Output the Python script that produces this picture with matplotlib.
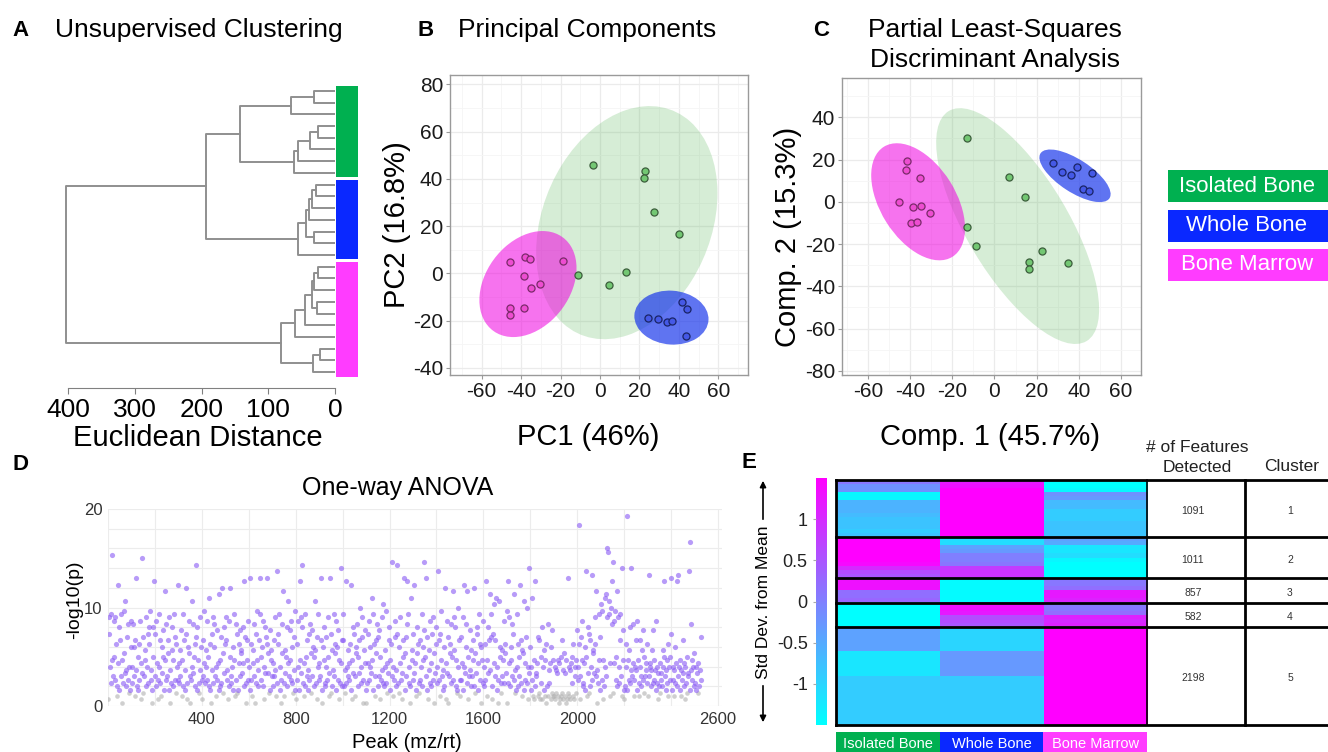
import numpy as np
import matplotlib
matplotlib.use('Agg')
from matplotlib import pyplot as plt, patches as pth
from matplotlib.colors import LinearSegmentedColormap, Normalize
from matplotlib.cm import ScalarMappable
from matplotlib.ticker import MultipleLocator

plt.rcParams['font.family'] = ['Liberation Sans', 'DejaVu Sans']
plt.rcParams['axes.unicode_minus'] = False

W, H = 1328, 752

# ----------------------------------- data
groups = ['Isolated Bone', 'Whole Bone', 'Bone Marrow']
group_colors = ['#00b050', '#0a28ff', '#ff3cff']
leaf_color = {'I': group_colors[0], 'W': group_colors[1], 'M': group_colors[2]}

# dendrogram (merge height, upper child, lower child), leaves = group key
den_tree = (403,
            (193,
             (143,
              (66, (31, 'I', 'I'), 'I'),
              (62, (55, (37, (26, 'I', 'I'), 'I'), 'I'), 'I')),
             (56, (43, (39, (35, (28, 'W', 'W'), 'W'), 'W'), (31, 'W', 'W')), 'W')),
            (81,
             (60, (45, (35, (31, (25, 'M', 'M'), 'M'), (27, 'M', 'M')), 'M'), 'M'),
             (33, (23, 'M', 'M'), 'M')))

# PCA scores
pc1_iso = [-3.7, 22.8, 22.5, 27.2, 40.2, 13.3, 4.4, -11.3]
pc2_iso = [45.7, 43.2, 40.2, 26.1, 16.5, 0.7, -5.0, -0.8]
pc1_whole = [24.2, 29.2, 34.1, 36.5, 41.6, 43.9, 43.6]
pc2_whole = [-18.8, -19.3, -20.4, -20.1, -12.1, -14.9, -26.3]
pc1_marrow = [-45.6, -38.0, -35.3, -18.8, -38.7, -30.3, -34.8, -45.5, -38.4, -45.5]
pc2_marrow = [4.7, 7.0, 6.2, 5.2, -1.2, -4.3, -6.3, -14.7, -14.6, -17.6]
# confidence ellipses: centre x, centre y, width, height, angle
pca_ellipses = [(13.6, 21.5, 107, 82, 53), (36.2, -18.7, 37.6, 22.8, -3),
                (-36.5, -4.5, 54, 39, 36.5)]

# PLS-DA scores
c1_iso = [-13.1, 7.0, 14.4, -12.9, -8.7, 22.7, 16.3, 16.3, 34.7]
c2_iso = [30.1, 11.9, 2.4, -12.0, -21.0, -23.3, -28.5, -31.7, -29.0]
c1_whole = [27.6, 31.9, 36.5, 39.3, 46.1, 42.2, 44.8]
c2_whole = [18.5, 14.3, 12.5, 16.6, 13.5, 6.1, 5.1]
c1_marrow = [-41.4, -42.0, -35.5, -45.5, -38.8, -34.7, -30.8, -39.8, -36.8]
c2_marrow = [19.2, 14.9, 11.4, -0.1, -2.6, -1.8, -5.2, -10.2, -9.6]
pls_ellipses = [(11, -11.5, 127, 48, -59), (38.2, 12.3, 39, 15.5, -33),
                (-36.2, 0, 61.4, 35.8, -58)]

# one-way ANOVA -log10(p), one string per 100 peaks, each char = level/3
ANOVA_LEVELS = '0123456789ABCDEFGHIJKLMNOPQRSTUVWXYZabcdefghijklmnopqrstuvwxyz'
anova_segments = [
    '2RMCS7Ek9QF8RJ63bDO5KS9E17TGWA6BL8PC45QI',
    'C7PI93KBd65FJ8QD2AjL49HER6CM7OJT8B15OFc9',
    'MQ6D28SCK73AIFN5EZ8P9GK5RB17OHE6SL84JCb8',
    '7DH9NE36SKB5aM72IGQ918WCPAFJ6hLO5E47RBI8',
    '29KDT7CH8QF6XJ51MBR7IP9C38NDY56EL7aG4AOJ',
    'KR8B26QFa79CI5SE38PM45JDN9GHAOD6cL71KEQ8',
    'C5dJ83HDP917MET6BKdS8FI6QC2AOLJdAG45NEH9',
    '6DK9RB37fJMS5C18PGZ73AHFO6DW9NE8QI74LBT5',
    '28JCQ5EcARhO7D36SFK95BM8PG49NIF6WH72LCS8',
    'D9dK51IEO67CL8RF3AdM46HBS9GJ5QIN8E27gDK6',
    'KS6B47cCH98DJ5bE2AOM39IGP6FKAUC7RL81HDN5',
    '17MDQ8CIAXE5SJ93KGP6LN9F28RBV76CH7TD4AOK',
    '5EJ9iC38QLB6hM74IDR82AKFd5GL9PcS7C16XEH8',
    'MbAD35OGJ748KCS6EIiNF9dL52HBQ76DM8RG1AOJ',
    'C7fK83MET95BI6aD2AQL19JGP7FZ8RHO6E45UCK8',
    '38LDR5CbAPIZ7F29NBH69EK6aG4AOMD5SJ81IEQ7',
    '6CJ8cE3AOKBYSL62MDV9KX5C18WFI749HEQ7GJAT',
    '17cDR6EI9PMY8B45SCJ6F9bK73HGW58DL7UC2AgI',
    '5C8X3E2c6A9D3L4K2F7O2C5H3E1J6P3B7D2I4N3E',
    '3C2B4A3E1D2F3K4B2G3A1E2d4C3B2D7F3J2C9E4N',
    'C8tJ92LEQ67DI5fF3AOM46KCe8GHARJZ9B17SEL5',
    'VT8E26XCY9RmlWSD3UPc4iQDT8FZ6RC7SK93gEN5',
    '26JCw5EH8O7gB9PD38CKB5QE73KC96HN8F49DBJ7',
    '39eDC6BH7NE8B5Q7C2A64D8A6HCcF95B7EJ3C8FM',
    'd5C8B3I7D6c9eC5E3B8KA6D2C7F4A9fo5BPE8C6G',
    '7C5A4D6B8L',
]
anova_last_peak = 2530
anova_cutoff = 1.6

# heatmap (std dev from mean), rows per cluster, columns = groups
heat_clusters = [
    [[0.1, 1.2, -1.5], [-0.2, 1.3, -1.5], [-0.2, 1.5, -1.4], [-1.4, 1.5, -0.2],
     [-1.4, 1.5, -0.3], [-0.6, 1.5, -0.7], [-0.6, 1.5, -0.7], [-0.6, 1.5, -0.9],
     [-0.7, 1.5, -0.9], [-0.8, 1.5, -0.9], [-0.8, 1.5, -0.8], [-0.8, 1.5, -0.8],
     [-0.9, 1.5, -0.8], [-0.8, 1.5, -0.8]],
    [[1.5, -1.1, -0.4], [1.5, -1.1, -0.5], [1.5, -0.4, -1.2], [1.5, -0.3, -1.2],
     [1.5, 0.0, -1.1], [1.5, 0.0, -1.4], [1.4, 0.1, -1.5], [1.0, 0.8, -1.5],
     [0.6, 0.9, -1.5], [0.5, 0.9, -1.5]],
    [[1.3, -1.45, 0.1], [1.3, -1.45, 0.1], [1.3, -1.45, 0.2], [0.2, -1.45, 1.2],
     [0.2, -1.45, 1.2], [0.3, -1.45, 1.1]],
    [[-1.5, 1.3, 0.1], [-1.5, 1.3, 0.1], [-1.5, 1.2, 0.2], [-1.5, 0.6, 1.1],
     [-1.5, 0.6, 1.0], [-1.5, 0.5, 1.1]],
    [[-0.4, -1.0, 1.5]] * 6 + [[-1.2, -0.3, 1.5]] * 6 + [[-0.9, -0.9, 1.5]] * 12,
]
features_detected = [1091, 1011, 857, 582, 2198]
cluster_ids = [1, 2, 3, 4, 5]

# ----------------------------------- helpers
fig = plt.figure(figsize=(W / 100, H / 100), dpi=100)


def px_axes(l, t, r, b):
    return fig.add_axes([l / W, 1 - b / H, (r - l) / W, (b - t) / H])


def px_text(x, y, s, **kw):
    kw.setdefault('ha', 'center')
    kw.setdefault('va', 'center')
    return fig.text(x / W, 1 - y / H, s, **kw)


def px_rect(l, t, r, b, color):
    fig.patches.append(pth.Rectangle((l / W, 1 - b / H), (r - l) / W, (b - t) / H,
                                     transform=fig.transFigure, color=color, lw=0))


def draw_tree(ax, node, leaves):
    if isinstance(node, str):
        leaves.append(node)
        return len(leaves) - 1, 0
    h, upper, lower = node
    y1, h1 = draw_tree(ax, upper, leaves)
    y2, h2 = draw_tree(ax, lower, leaves)
    ax.plot([h1, h, h, h2], [y1, y1, y2, y2], color='#8f8f8f', lw=1.4)
    return (y1 + y2) / 2, h


def style_score_axes(ax, xlim, ylim, yticks):
    ax.set_xlim(*xlim)
    ax.set_ylim(*ylim)
    ax.set_xticks(range(-60, 61, 20))
    ax.set_yticks(yticks)
    ax.xaxis.set_minor_locator(MultipleLocator(10))
    ax.yaxis.set_minor_locator(MultipleLocator(10))
    ax.grid(which='major', color='#ebebeb', lw=0.9)
    ax.grid(which='minor', color='#f5f5f5', lw=0.6)
    ax.set_axisbelow(True)
    for sp in ax.spines.values():
        sp.set_color('#9a9a9a')
        sp.set_linewidth(1.0)
    ax.tick_params(which='major', labelsize=15, color='#9a9a9a', length=3, pad=2,
                   labelcolor='#1a1a1a')
    ax.tick_params(which='minor', length=0)


def draw_scores(ax, ellipses, xs, ys):
    fills = [(0.45, 0.78, 0.45), (0.27, 0.35, 0.9), (0.93, 0.3, 0.82)]
    edges = ['#3c5e3c', '#1a2466', '#7a2a6a']
    faces = ['#5cb85c', '#1432eb', '#f000e0']
    alphas = [0.25, 0.68, 0.55]
    for k in [0, 2, 1]:
        cx, cy, w, h, ang = ellipses[k]
        ax.add_patch(pth.Ellipse((cx, cy), w, h, angle=ang, facecolor=faces[k],
                                 alpha=alphas[k], edgecolor='none', zorder=1))
    for k in range(3):
        ax.scatter(xs[k], ys[k], s=26, color=fills[k], edgecolors=edges[k],
                   linewidths=0.9, zorder=3)


# ----------------------------------- A: dendrogram
px_text(12, 30, 'A', ha='left', fontsize=16, fontweight='bold')
px_text(55, 30, 'Unsupervised Clustering', ha='left', fontsize=19)

axA = px_axes(65, 85, 335, 388)
leaves = []
draw_tree(axA, den_tree, leaves)
axA.set_xlim(405, 0)
axA.set_ylim(len(leaves) - 0.5 + 0.85, -0.5)
for s in ['top', 'right', 'left']:
    axA.spines[s].set_visible(False)
axA.spines['bottom'].set_bounds(0, 400)
axA.spines['bottom'].set_color('#808080')
axA.set_xticks([400, 300, 200, 100, 0])
axA.set_yticks([])
axA.tick_params(axis='x', labelsize=19, color='#808080', length=4, pad=3)
px_text(198, 438, 'Euclidean Distance', fontsize=21)

axAc = px_axes(336, 85, 358, 388)
axAc.set_xlim(0, 1)
axAc.set_ylim(len(leaves) - 0.5 + 0.85, -0.5)
axAc.axis('off')
start = 0
for i in range(1, len(leaves) + 1):
    if i == len(leaves) or leaves[i] != leaves[start]:
        n = i - start
        axAc.barh(start + (n - 1) / 2, 1, height=n - 0.25, color=leaf_color[leaves[start]])
        start = i

# ----------------------------------- B: PCA
px_text(418, 30, 'B', ha='left', fontsize=16, fontweight='bold')
px_text(458, 30, 'Principal Components', ha='left', fontsize=19)
axB = px_axes(450, 75, 748, 375)
style_score_axes(axB, (-76, 75), (-43, 84), range(-40, 81, 20))
draw_scores(axB, pca_ellipses, [pc1_iso, pc1_whole, pc1_marrow],
            [pc2_iso, pc2_whole, pc2_marrow])
px_text(397, 225, 'PC2 (16.8%)', rotation=90, fontsize=21)
px_text(588, 437, 'PC1 (46%)', fontsize=21)

# ----------------------------------- C: PLS-DA
px_text(813, 30, 'C', ha='left', fontsize=16, fontweight='bold')
px_text(995, 30, 'Partial Least-Squares', fontsize=19)
px_text(995, 60, 'Discriminant Analysis', fontsize=19)
axC = px_axes(842, 78, 1141, 375)
style_score_axes(axC, (-72.3, 69.5), (-82, 58.6), range(-80, 41, 20))
draw_scores(axC, pls_ellipses, [c1_iso, c1_whole, c1_marrow],
            [c2_iso, c2_whole, c2_marrow])
px_text(788, 237, 'Comp. 2 (15.3%)', rotation=90, fontsize=21)
px_text(990, 437, 'Comp. 1 (45.7%)', fontsize=21)

# legend
for i, (name, col) in enumerate(zip(groups, group_colors)):
    top = 170 + i * 39.5
    px_rect(1168, top, 1330, top + 32, col)
    px_text(1247, top + 16, name, color='white', fontsize=16)

# ----------------------------------- D: ANOVA
px_text(12, 465, 'D', ha='left', fontsize=16, fontweight='bold')
px_text(398, 488, 'One-way ANOVA', fontsize=18)
axD = px_axes(108, 509, 722, 706)
peak_x, logp = [], []
for k, seg in enumerate(anova_segments):
    lo = k * 100
    hi = min(lo + 100, anova_last_peak)
    step = (hi - lo) / len(seg)
    for j, ch in enumerate(seg):
        peak_x.append(lo + (j + 0.5) * step)
        logp.append(ANOVA_LEVELS.index(ch) / 3)
peak_x = np.array(peak_x)
logp = np.array(logp)
sig = logp >= anova_cutoff
axD.scatter(peak_x[~sig], logp[~sig], s=11, color='#b0b0b0', alpha=0.6, lw=0)
axD.scatter(peak_x[sig], logp[sig], s=14, color='#8c5ef5', alpha=0.62, lw=0)
axD.set_xlim(0, 2617)
axD.set_ylim(0, 20)
axD.set_xticks([400, 800, 1200, 1600, 2000, 2600])
axD.set_yticks([0, 10, 20])
axD.set_xticks(np.arange(0, 2601, 200), minor=True)
axD.set_yticks(np.arange(0, 21, 2), minor=True)
axD.grid(which='both', color='#ececec', lw=0.8)
axD.set_axisbelow(True)
for sp in axD.spines.values():
    sp.set_visible(False)
axD.tick_params(which='both', length=0, labelsize=12, labelcolor='#333333', pad=4)
px_text(75, 600, '-log10(p)', rotation=90, fontsize=14)
px_text(407, 742, 'Peak (mz/rt)', fontsize=14.5)

# ----------------------------------- E: heatmap
px_text(742, 462, 'E', ha='left', fontsize=16, fontweight='bold')
heat_cmap = LinearSegmentedColormap.from_list('cyan_magenta', ['#00ffff', '#ff00ff'])
heat_norm = Normalize(-1.5, 1.5)
heat = np.vstack([np.array(c, dtype=float) for c in heat_clusters])
edges = np.cumsum([0] + [len(c) for c in heat_clusters])
n_rows = heat.shape[0]

col_w = (1147 - 836) / 3
x_end = (1328 - 836) / col_w
x_div = (1245 - 836) / col_w
axE = px_axes(836, 480, 1328, 725)
axE.imshow(heat, cmap=heat_cmap, norm=heat_norm, aspect='auto',
           extent=(0, 3, n_rows, 0), interpolation='nearest')
axE.set_xlim(0, x_end)
axE.set_ylim(n_rows, 0)
axE.axis('off')
for e in edges:
    axE.plot([0, x_end], [e, e], color='black', lw=2, clip_on=False)
for xv in [0, 3, x_div]:
    axE.plot([xv, xv], [0, n_rows], color='black', lw=2 if xv != 3 else 1.2,
             clip_on=False)
for i in range(len(features_detected)):
    mid = (edges[i] + edges[i + 1]) / 2 + 0.6
    axE.text((1193 - 836) / col_w, mid, str(features_detected[i]), ha='center',
             va='center', fontsize=7.5, color='#333333')
    axE.text((1290 - 836) / col_w, mid, str(cluster_ids[i]), ha='center',
             va='center', fontsize=7.5, color='#333333')
px_text(1197, 447, '# of Features', fontsize=12.5, color='#222222')
px_text(1197, 468, 'Detected', fontsize=12.5, color='#222222')
px_text(1292, 467, 'Cluster', fontsize=12.5, color='#222222')

# group labels under heatmap
for i, (name, col) in enumerate(zip(groups, group_colors)):
    l = 836 + i * col_w
    px_rect(l, 732, l + col_w, 754, col)
    px_text(l + col_w / 2, 744, name, color='white', fontsize=10.5)

# colour bar
cax = px_axes(816, 478, 827, 725)
cb = fig.colorbar(ScalarMappable(norm=heat_norm, cmap=heat_cmap), cax=cax,
                  ticks=[-1, -0.5, 0, 0.5, 1])
cb.outline.set_visible(False)
cax.yaxis.set_ticks_position('left')
cax.set_yticklabels(['-1', '-0.5', '0', '0.5', '1'])
cax.tick_params(labelsize=13, length=2, color='#aaaaaa', pad=4, labelcolor='#222222')

px_text(763, 602, 'Std Dev. from Mean', rotation=90, fontsize=12.5)
for y0, y1 in [(522, 478), (683, 725)]:
    fig.patches.append(pth.FancyArrowPatch((763 / W, 1 - y0 / H), (763 / W, 1 - y1 / H),
                                           transform=fig.transFigure, arrowstyle='-|>',
                                           mutation_scale=9, color='black', lw=1.2))

fig.savefig('out.png', dpi=100)
